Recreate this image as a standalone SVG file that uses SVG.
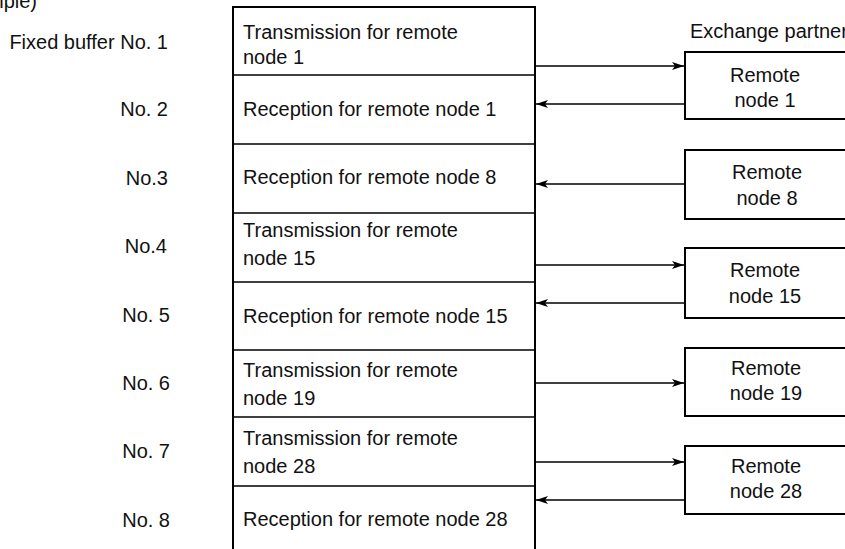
<svg xmlns="http://www.w3.org/2000/svg" width="845" height="549" viewBox="0 0 845 549">
<defs>
<marker id="ah" viewBox="0 0 12 8" refX="12" refY="4" markerWidth="12" markerHeight="8" markerUnits="userSpaceOnUse" orient="auto">
<path d="M0,0 L12,4 L0,8 L3,4 Z" fill="#000"/>
</marker>
<style>
text{font-family:"Liberation Sans",Arial,Helvetica,sans-serif;font-size:20px;fill:#111}
.lbl{text-anchor:end}
.mid{text-anchor:middle}
.box{fill:#fff;stroke:#000;stroke-width:2}
.col{fill:none;stroke:#000;stroke-width:2}
.div{stroke:#000;stroke-width:1.3}
.con{stroke:#000;stroke-width:1.3;fill:none;marker-end:url(#ah)}
</style>
</defs>
<rect width="845" height="549" fill="#fff"/>
<text x="37" y="8" class="lbl">(Example)</text>
<text x="690" y="38">Exchange partner</text>

<g id="buffer">
<path class="col" d="M233,549 V7 H535 V549"/>
<line class="div" x1="233" y1="75" x2="535" y2="75"/>
<line class="div" x1="233" y1="144" x2="535" y2="144"/>
<line class="div" x1="233" y1="213" x2="535" y2="213"/>
<line class="div" x1="233" y1="282" x2="535" y2="282"/>
<line class="div" x1="233" y1="350" x2="535" y2="350"/>
<line class="div" x1="233" y1="417" x2="535" y2="417"/>
<line class="div" x1="233" y1="486" x2="535" y2="486"/>
</g>

<g id="buf1"><text x="168" y="49" class="lbl">Fixed buffer No. 1</text><text x="243" y="39">Transmission for remote</text><text x="243" y="64">node 1</text></g>
<g id="buf2"><text x="168" y="116" class="lbl">No. 2</text><text x="243" y="116">Reception for remote node 1</text></g>
<g id="buf3"><text x="168" y="185" class="lbl">No.3</text><text x="243" y="184">Reception for remote node 8</text></g>
<g id="buf4"><text x="167" y="253" class="lbl">No.4</text><text x="243" y="237">Transmission for remote</text><text x="243" y="265">node 15</text></g>
<g id="buf5"><text x="170" y="322" class="lbl">No. 5</text><text x="243" y="323">Reception for remote node 15</text></g>
<g id="buf6"><text x="170" y="390" class="lbl">No. 6</text><text x="243" y="377">Transmission for remote</text><text x="243" y="405">node 19</text></g>
<g id="buf7"><text x="170" y="458" class="lbl">No. 7</text><text x="243" y="445">Transmission for remote</text><text x="243" y="473">node 28</text></g>
<g id="buf8"><text x="170" y="527" class="lbl">No. 8</text><text x="243" y="526">Reception for remote node 28</text></g>

<g id="remote1"><rect class="box" x="685" y="52" width="200" height="67"/><text x="765" y="82" class="mid">Remote</text><text x="765" y="107" class="mid">node 1</text></g>
<g id="remote8"><rect class="box" x="685" y="150" width="200" height="69"/><text x="767" y="179" class="mid">Remote</text><text x="767" y="205" class="mid">node 8</text></g>
<g id="remote15"><rect class="box" x="685" y="248" width="200" height="70"/><text x="765" y="277" class="mid">Remote</text><text x="765" y="303" class="mid">node 15</text></g>
<g id="remote19"><rect class="box" x="685" y="348" width="200" height="68"/><text x="766" y="375" class="mid">Remote</text><text x="766" y="400" class="mid">node 19</text></g>
<g id="remote28"><rect class="box" x="685" y="446" width="200" height="68"/><text x="766" y="473" class="mid">Remote</text><text x="766" y="498" class="mid">node 28</text></g>

<g id="connectors">
<line class="con" x1="536" y1="66" x2="684" y2="66"/>
<line class="con" x1="684" y1="104" x2="536" y2="104"/>
<line class="con" x1="684" y1="184" x2="536" y2="184"/>
<line class="con" x1="536" y1="265" x2="684" y2="265"/>
<line class="con" x1="684" y1="303" x2="536" y2="303"/>
<line class="con" x1="536" y1="383" x2="684" y2="383"/>
<line class="con" x1="536" y1="462" x2="684" y2="462"/>
<line class="con" x1="684" y1="500" x2="536" y2="500"/>
</g>
</svg>
